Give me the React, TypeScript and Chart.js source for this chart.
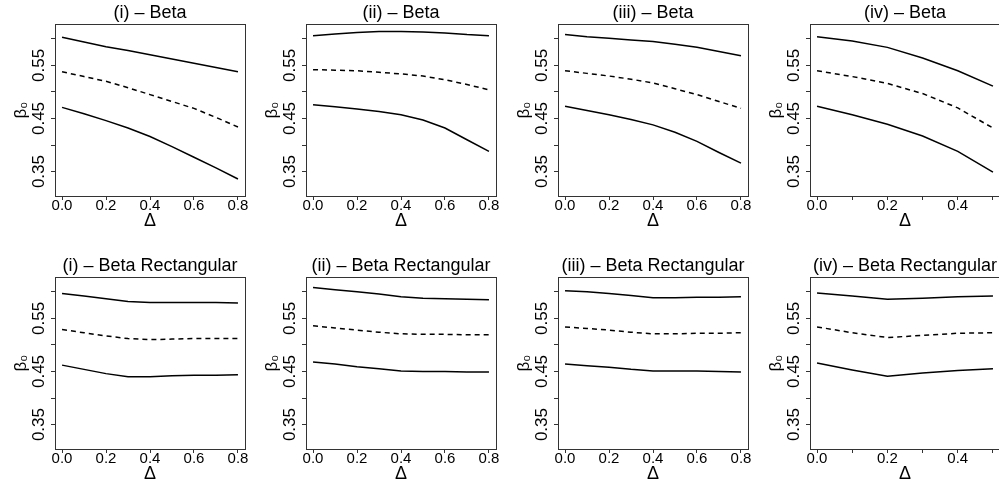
import React, { useEffect, useRef } from 'react';
import { Chart, registerables } from 'chart.js';

Chart.register(...registerables);

// ---------- data ----------
const DELTA_LONG = [0, 0.1, 0.2, 0.3, 0.4, 0.5, 0.6, 0.7, 0.8];
const DELTA_SHORT = [0, 0.1, 0.2, 0.3, 0.4, 0.5];

const X_TICKS_LONG = [0, 0.2, 0.4, 0.6, 0.8];
const X_LABELS_LONG = [0, 0.2, 0.4, 0.6, 0.8];
const X_TICKS_SHORT = [0, 0.1, 0.2, 0.3, 0.4, 0.5];
const X_LABELS_SHORT = [0, 0.2, 0.4];

const Y_TICKS = [0.35, 0.4, 0.45, 0.5, 0.55, 0.6];
const Y_LABELS = [0.35, 0.45, 0.55];

const TITLES = [
  '(i) – Beta',
  '(ii) – Beta',
  '(iii) – Beta',
  '(iv) – Beta',
  '(i) – Beta Rectangular',
  '(ii) – Beta Rectangular',
  '(iii) – Beta Rectangular',
  '(iv) – Beta Rectangular',
];

// Beta
const B1_UPPER = [0.603, 0.594, 0.585, 0.578, 0.570, 0.562, 0.554, 0.546, 0.538];
const B1_MID = [0.538, 0.529, 0.520, 0.508, 0.495, 0.482, 0.469, 0.452, 0.434];
const B1_LOWER = [0.471, 0.459, 0.446, 0.432, 0.416, 0.397, 0.377, 0.357, 0.336];

const B2_UPPER = [0.606, 0.609, 0.612, 0.614, 0.614, 0.613, 0.611, 0.608, 0.606];
const B2_MID = [0.542, 0.541, 0.540, 0.537, 0.534, 0.530, 0.523, 0.514, 0.504];
const B2_LOWER = [0.476, 0.472, 0.468, 0.463, 0.457, 0.447, 0.432, 0.410, 0.388];

const B3_UPPER = [0.608, 0.604, 0.601, 0.598, 0.595, 0.590, 0.584, 0.576, 0.568];
const B3_MID = [0.540, 0.535, 0.530, 0.524, 0.517, 0.506, 0.495, 0.482, 0.469];
const B3_LOWER = [0.473, 0.465, 0.457, 0.448, 0.438, 0.424, 0.407, 0.386, 0.366];

const B4_UPPER = [0.604, 0.596, 0.584, 0.564, 0.540, 0.511];
const B4_MID = [0.540, 0.529, 0.516, 0.497, 0.470, 0.432];
const B4_LOWER = [0.473, 0.457, 0.439, 0.417, 0.388, 0.349];

// Beta Rectangular
const R1_UPPER = [0.597, 0.592, 0.587, 0.582, 0.580, 0.580, 0.580, 0.580, 0.579];
const R1_MID = [0.529, 0.523, 0.517, 0.512, 0.510, 0.511, 0.512, 0.512, 0.512];
const R1_LOWER = [0.462, 0.454, 0.446, 0.440, 0.440, 0.442, 0.443, 0.443, 0.444];

const R2_UPPER = [0.608, 0.604, 0.600, 0.596, 0.591, 0.588, 0.587, 0.586, 0.585];
const R2_MID = [0.536, 0.532, 0.528, 0.524, 0.521, 0.520, 0.520, 0.519, 0.519];
const R2_LOWER = [0.468, 0.464, 0.459, 0.455, 0.451, 0.450, 0.450, 0.449, 0.449];

const R3_UPPER = [0.602, 0.600, 0.597, 0.593, 0.589, 0.589, 0.590, 0.590, 0.591];
const R3_MID = [0.534, 0.531, 0.528, 0.524, 0.521, 0.521, 0.522, 0.522, 0.523];
const R3_LOWER = [0.464, 0.461, 0.458, 0.454, 0.451, 0.451, 0.451, 0.450, 0.449];

const R4_UPPER = [0.598, 0.592, 0.586, 0.588, 0.591, 0.592];
const R4_MID = [0.534, 0.523, 0.514, 0.518, 0.522, 0.523];
const R4_LOWER = [0.466, 0.453, 0.441, 0.447, 0.452, 0.455];

// ---------- panel ----------
const FONT = 'Liberation Sans, Arial, Helvetica, sans-serif';

const boxPlugin = {
  id: 'plotBox',
  afterDraw(chart: any) {
    const { ctx, chartArea } = chart;
    ctx.save();
    ctx.strokeStyle = '#333';
    ctx.lineWidth = 1;
    ctx.strokeRect(
      Math.round(chartArea.left) + 0.5,
      Math.round(chartArea.top) + 0.5,
      Math.round(chartArea.right - chartArea.left),
      Math.round(chartArea.bottom - chartArea.top)
    );
    ctx.restore();
  },
};

const near = (arr: number[], v: number) => arr.some((a) => Math.abs(a - v) < 1e-9);

type PanelProps = {
  title: string;
  delta: number[];
  upper: number[];
  mid: number[];
  lower: number[];
  xTicks: number[];
  xLabels: number[];
  xMin: number;
  xMax: number;
  left: number;
  top: number;
};

function Panel(p: PanelProps) {
  const ref = useRef<HTMLCanvasElement>(null);
  useEffect(() => {
    const mk = (vals: number[]) => p.delta.map((d, i) => ({ x: d, y: vals[i] }));
    const line = { borderColor: '#000', borderWidth: 1.5, pointRadius: 0, fill: false, tension: 0 };
    const chart = new Chart(ref.current as HTMLCanvasElement, {
      type: 'line',
      data: {
        datasets: [
          { ...line, data: mk(p.upper) },
          { ...line, data: mk(p.mid), borderDash: [5, 4] },
          { ...line, data: mk(p.lower) },
        ],
      },
      options: {
        animation: false,
        responsive: false,
        devicePixelRatio: 1,
        layout: { padding: { left: 0, right: 7, top: 0, bottom: 0 } },
        plugins: {
          legend: { display: false },
          tooltip: { enabled: false },
          title: {
            display: true,
            text: p.title,
            fullSize: false,
            color: '#000',
            font: { family: FONT, size: 18, weight: 'normal', lineHeight: 1 },
            padding: { top: 4.5, bottom: 1.5 },
          },
        },
        scales: {
          x: {
            type: 'linear',
            min: p.xMin,
            max: p.xMax,
            afterBuildTicks: (s: any) => {
              s.ticks = p.xTicks.map((v) => ({ value: v }));
            },
            afterFit: (s: any) => {
              s.height = 57;
            },
            border: { display: false },
            grid: { drawOnChartArea: false, drawTicks: true, tickLength: 4, color: '#333', lineWidth: 1 },
            ticks: {
              autoSkip: false,
              maxRotation: 0,
              minRotation: 0,
              padding: -3.5,
              color: '#000',
              font: { family: FONT, size: 15, lineHeight: 1.2 },
              callback: (v: any) => (near(p.xLabels, Number(v)) ? Number(v).toFixed(1) : ''),
            },
            title: {
              display: true,
              text: 'Δ',
              color: '#000',
              font: { family: FONT, size: 18, lineHeight: 1.2 },
              padding: { top: 0, bottom: 21 },
            },
          },
          y: {
            type: 'linear',
            min: 0.304,
            max: 0.628,
            afterBuildTicks: (s: any) => {
              s.ticks = Y_TICKS.map((v) => ({ value: v }));
            },
            afterFit: (s: any) => {
              s.width = 55;
            },
            border: { display: false },
            grid: { drawOnChartArea: false, drawTicks: true, tickLength: 4, color: '#333', lineWidth: 1 },
            ticks: {
              autoSkip: false,
              minRotation: 90,
              maxRotation: 90,
              crossAlign: 'center',
              padding: -4.5,
              color: '#000',
              font: { family: FONT, size: 17, lineHeight: 1.2 },
              callback: (v: any) => (near(Y_LABELS, Number(v)) ? Number(v).toFixed(2) : ''),
            },
            title: {
              display: true,
              text: 'β₀',
              color: '#000',
              font: { family: FONT, size: 17, lineHeight: 1.2 },
              padding: { top: 11.3, bottom: 0 },
            },
          },
        },
      } as any,
      plugins: [boxPlugin],
    });
    return () => chart.destroy();
  }, []);
  return (
    <canvas
      ref={ref}
      width={252}
      height={253}
      style={{ position: 'absolute', left: p.left, top: p.top, width: 252, height: 253 }}
    />
  );
}

const PANEL_LEFTS = [0, 251, 503, 755];
const PANEL_TOPS = [0, 253];

export default function App() {
  const series = [
    [B1_UPPER, B1_MID, B1_LOWER],
    [B2_UPPER, B2_MID, B2_LOWER],
    [B3_UPPER, B3_MID, B3_LOWER],
    [B4_UPPER, B4_MID, B4_LOWER],
    [R1_UPPER, R1_MID, R1_LOWER],
    [R2_UPPER, R2_MID, R2_LOWER],
    [R3_UPPER, R3_MID, R3_LOWER],
    [R4_UPPER, R4_MID, R4_LOWER],
  ];
  return (
    <div
      style={{
        position: 'absolute',
        left: 0,
        top: 0,
        width: 999,
        height: 485,
        overflow: 'hidden',
        background: '#fff',
      }}
    >
      {series.map((s, i) => {
        const col = i % 4;
        const row = Math.floor(i / 4);
        const short = col === 3;
        return (
          <Panel
            key={i}
            title={TITLES[i]}
            delta={short ? DELTA_SHORT : DELTA_LONG}
            upper={s[0]}
            mid={s[1]}
            lower={s[2]}
            xTicks={short ? X_TICKS_SHORT : X_TICKS_LONG}
            xLabels={short ? X_LABELS_SHORT : X_LABELS_LONG}
            xMin={short ? -0.02 : -0.032}
            xMax={short ? 0.52 : 0.832}
            left={PANEL_LEFTS[col]}
            top={PANEL_TOPS[row]}
          />
        );
      })}
    </div>
  );
}
